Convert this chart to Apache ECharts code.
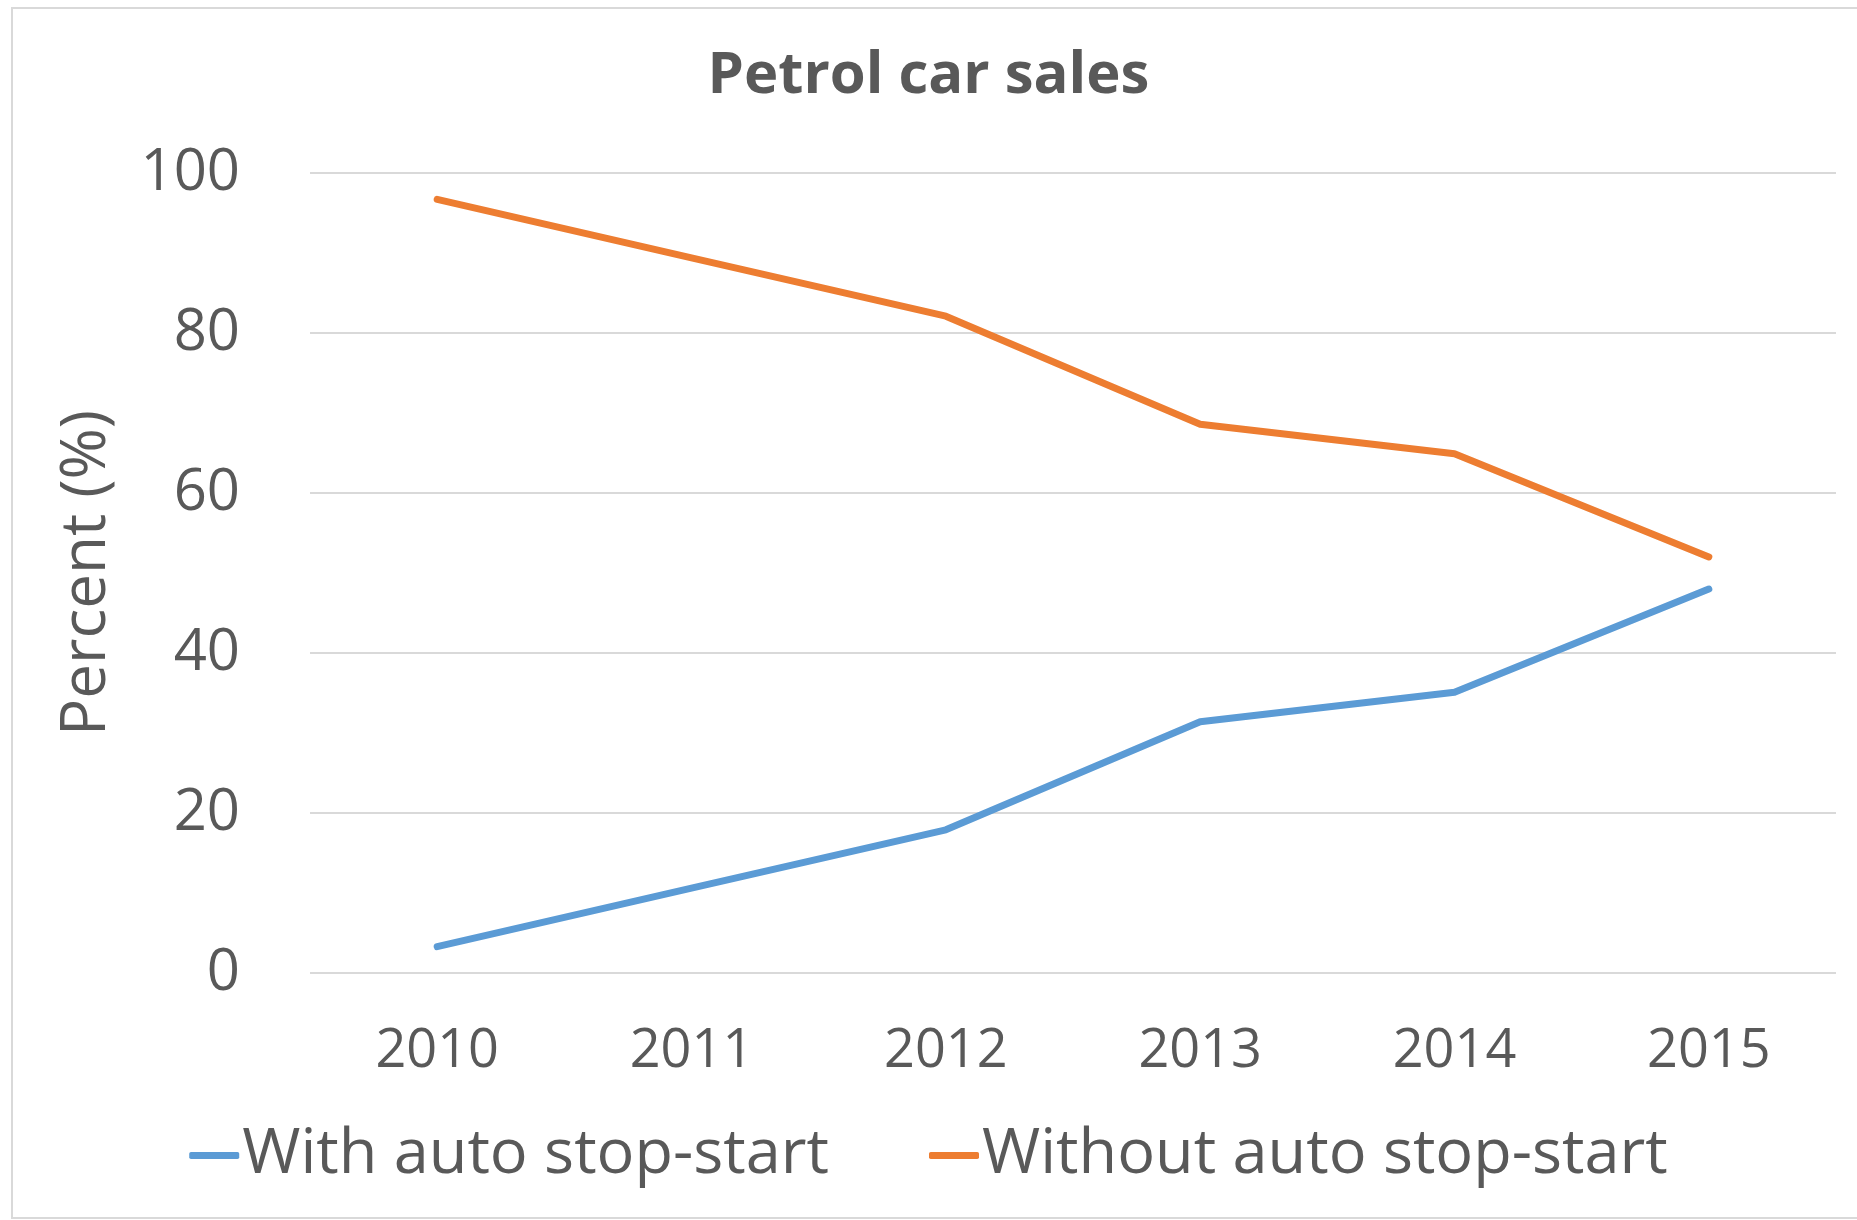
<!DOCTYPE html>
<html>
<head>
<meta charset="utf-8">
<script src="https://cdn.jsdelivr.net/npm/echarts@6/dist/echarts.min.js"></script>
<style>
  html, body { margin: 0; padding: 0; background: #fff; }
  #chart { width: 1857px; height: 1220px; }
</style>
</head>
<body>
<div id="chart"></div>
<script>
var years = ['2010', '2011', '2012', '2013', '2014', '2015'];
var withStopStart = [3.3, 10.6, 17.9, 31.4, 35.1, 48.0];
var withoutStopStart = [96.7, 89.4, 82.1, 68.6, 64.9, 52.0];
var seriesNames = ['With auto stop-start', 'Without auto stop-start'];

var textColor = '#595959';
var font = 'Open Sans';

var myChart = echarts.init(document.getElementById('chart'));

var option = {
    backgroundColor: '#fff',
    color: ['#5B9BD5', '#ED7D31'],
    animation: false,
    title: {
        text: 'Petrol car sales',
        left: 'center',
        top: 42,
        padding: [5, 0, 5, 16],
        textStyle: { color: textColor, fontFamily: font, fontWeight: 'bold', fontSize: 58 }
    },
    legend: {
        bottom: 28,
        left: 'center',
        padding: [5, 0, 5, 14],
        itemWidth: 50,
        itemHeight: 7,
        itemGap: 100,
        icon: 'roundRect',
        textStyle: { color: textColor, fontFamily: font, fontSize: 63, padding: [0, 0, 0, -2] },
        data: seriesNames
    },
    grid: { left: 310, right: 21, top: 173, bottom: 247 },
    xAxis: {
        type: 'category',
        data: years,
        boundaryGap: true,
        axisLine: { show: false },
        axisTick: { show: false },
        axisLabel: { color: textColor, fontFamily: font, fontSize: 54, margin: 52 }
    },
    yAxis: {
        type: 'value',
        min: 0,
        max: 100,
        interval: 20,
        name: 'Percent (%)',
        nameLocation: 'middle',
        nameGap: 192,
        nameTextStyle: { color: textColor, fontFamily: font, fontSize: 62 },
        axisLine: { show: false },
        axisTick: { show: false },
        axisLabel: { color: textColor, fontFamily: font, fontSize: 58, margin: 70 },
        splitLine: { lineStyle: { color: '#D9D9D9', width: 2 } }
    },
    graphic: [{
        type: 'rect',
        shape: { x: 12, y: 8, width: 1870, height: 1210 },
        style: { fill: 'none', stroke: '#D9D9D9', lineWidth: 2 },
        silent: true
    }],
    series: [
        {
            name: seriesNames[0],
            type: 'line',
            data: withStopStart,
            symbol: 'none',
            lineStyle: { width: 7, cap: 'round', join: 'round' }
        },
        {
            name: seriesNames[1],
            type: 'line',
            data: withoutStopStart,
            symbol: 'none',
            lineStyle: { width: 7, cap: 'round', join: 'round' }
        }
    ]
};

myChart.setOption(option);
window.addEventListener('resize', function () {
    myChart.resize();
});
</script>
</body>
</html>
